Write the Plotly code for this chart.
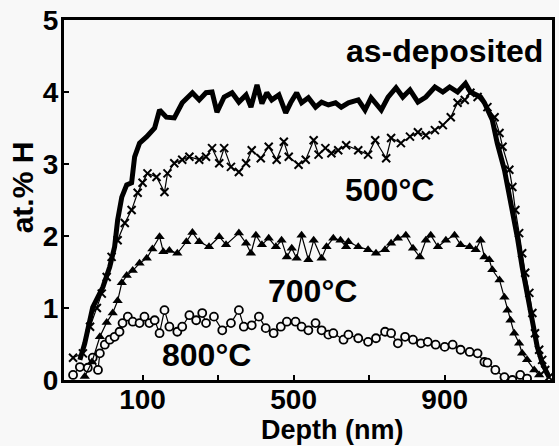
import plotly.graph_objects as go

# as-deposited (thick solid line)
asdep_x = [-66, -53, -32, -5, 13, 26, 34, 45, 58, 71, 79, 92, 111, 132, 145, 163, 184, 205, 232, 250,
           268, 284, 297, 316, 337, 355, 374, 387, 403, 416, 429, 442, 461, 479, 492, 508, 521, 539, 558,
           574, 592, 611, 626, 645, 671, 689, 705, 732, 750, 771, 789, 808, 829, 850, 874, 895, 913, 934,
           955, 968, 995, 1005, 1026, 1039, 1058, 1074, 1092, 1105, 1118, 1132, 1145, 1158, 1176]
asdep_y = [0.28, 0.51, 1.01, 1.29, 1.57, 1.85, 2.22, 2.54, 2.71, 2.74, 3.10, 3.29, 3.38, 3.50, 3.75, 3.65,
           3.64, 3.85, 3.99, 3.89, 3.99, 4.00, 3.72, 3.93, 3.99, 3.86, 3.96, 3.79, 4.10, 3.84, 3.99, 3.89,
           3.96, 3.71, 3.85, 3.99, 3.85, 3.92, 3.79, 3.86, 3.82, 3.85, 3.79, 3.85, 3.89, 3.75, 3.92, 3.75,
           3.93, 4.06, 3.93, 4.03, 3.86, 3.93, 4.07, 4.00, 4.07, 4.00, 4.12, 4.00, 3.93, 3.85, 3.61, 3.29,
           2.92, 2.50, 1.99, 1.57, 1.21, 0.79, 0.46, 0.24, 0.04]

# 500 C (crosses)
t500_x = [-84, -58, -39, -21, -8, 5, 18, 34, 53, 71, 87, 100, 113, 137, 158, 166, 184, 205, 224, 250,
          268, 284, 303, 316, 334, 355, 374, 389, 413, 434, 455, 474, 487, 513, 532, 553, 566, 584, 600,
          618, 639, 671, 697, 716, 745, 758, 784, 808, 829, 850, 874, 895, 916, 934, 953, 968, 987, 1013,
          1032, 1045, 1053, 1071, 1079, 1087, 1097, 1105, 1113, 1124, 1132, 1139, 1150, 1158, 1166, 1176]
t500_y = [0.31, 0.37, 0.74, 1.00, 1.20, 1.43, 1.71, 1.94, 2.18, 2.36, 2.60, 2.74, 2.87, 2.82, 2.61, 2.87,
          3.01, 3.06, 3.10, 3.06, 3.10, 3.22, 3.01, 3.22, 2.96, 2.89, 3.01, 3.19, 3.08, 3.24, 3.06, 3.31,
          3.10, 2.99, 3.06, 3.33, 3.13, 3.22, 3.15, 3.19, 3.26, 3.19, 3.13, 3.33, 3.08, 3.36, 3.29, 3.38,
          3.44, 3.40, 3.47, 3.54, 3.65, 3.85, 3.89, 3.99, 3.93, 3.79, 3.65, 3.43, 3.24, 2.92, 2.68, 2.36,
          2.04, 1.76, 1.49, 1.21, 0.93, 0.65, 0.42, 0.28, 0.14, 0.04]

# 700 C (filled triangles)
t700_x = [-53, -34, -13, 5, 21, 34, 45, 58, 74, 92, 111, 126, 145, 155, 171, 192, 216, 232, 250, 276,
          303, 321, 355, 374, 387, 400, 416, 434, 453, 468, 482, 495, 508, 521, 539, 553, 574, 587, 605,
          624, 639, 645, 671, 697, 718, 742, 758, 776, 797, 816, 834, 850, 863, 882, 903, 926, 942, 966,
          982, 995, 1005, 1018, 1026, 1045, 1058, 1066, 1074, 1084, 1097, 1105, 1118, 1137, 1150]
t700_y = [0.05, 0.25, 0.60, 0.80, 0.93, 1.10, 1.35, 1.45, 1.52, 1.62, 1.69, 1.82, 1.99, 1.78, 1.80, 1.76,
          1.92, 2.05, 1.92, 1.85, 1.99, 1.88, 2.04, 1.90, 1.76, 2.01, 1.88, 1.97, 1.85, 1.94, 1.71, 1.83,
          1.69, 2.01, 1.67, 1.94, 1.69, 1.85, 1.97, 1.94, 1.85, 1.92, 1.85, 1.81, 1.76, 1.81, 1.90, 1.97,
          2.01, 1.83, 1.71, 1.94, 2.01, 1.85, 1.94, 2.01, 1.88, 1.85, 1.81, 1.94, 1.71, 1.67, 1.53, 1.39,
          1.15, 0.97, 0.83, 0.65, 0.51, 0.37, 0.28, 0.14, 0.07]

# 800 C (open circles)
t800_x = [-84, -66, -45, -32, -18, -13, 0, 13, 26, 39, 47, 61, 74, 92, 105, 118, 132, 145, 158, 171,
          192, 205, 224, 242, 258, 268, 289, 311, 334, 355, 368, 389, 408, 426, 447, 466, 482, 505, 521,
          539, 558, 574, 592, 605, 632, 645, 671, 697, 718, 742, 758, 776, 795, 816, 837, 855, 876, 900,
          921, 942, 966, 987, 1005, 1013, 1034, 1058, 1079, 1100, 1118]
t800_y = [0.07, 0.18, 0.17, 0.31, 0.14, 0.37, 0.49, 0.56, 0.60, 0.67, 0.79, 0.88, 0.81, 0.79, 0.88, 0.79,
          0.83, 0.65, 0.97, 0.74, 0.67, 0.74, 0.90, 0.83, 0.93, 0.79, 0.88, 0.69, 0.79, 0.97, 0.74, 0.76,
          0.88, 0.72, 0.65, 0.74, 0.81, 0.81, 0.74, 0.69, 0.79, 0.69, 0.63, 0.65, 0.56, 0.63, 0.58, 0.53,
          0.58, 0.67, 0.65, 0.51, 0.60, 0.56, 0.51, 0.53, 0.49, 0.46, 0.49, 0.42, 0.39, 0.37, 0.25, 0.24,
          0.14, 0.04, 0.00, 0.07, 0.02]

x_tick_vals = [100, 500, 900]
x_tick_text = ["100", "500", "900"]
x_minor_ticks = [300, 700]
y_tick_vals = [0, 1, 2, 3, 4, 5]

labels = ["as-deposited", "500°C", "700°C", "800°C"]
label_x = [1166, 755, 550, 268]
label_y = [4.57, 2.64, 1.24, 0.35]

FONT = "Liberation Sans, Arial, sans-serif"
BG = "#f8f8f8"

fig = go.Figure()

fig.add_trace(go.Scatter(x=t800_x, y=t800_y, mode="lines+markers",
                         line=dict(color="black", width=1.2),
                         marker=dict(symbol="circle", size=8, color=BG,
                                     line=dict(color="black", width=1.8)),
                         showlegend=False))
fig.add_trace(go.Scatter(x=t700_x, y=t700_y, mode="lines+markers",
                         line=dict(color="black", width=1.2),
                         marker=dict(symbol="triangle-up", size=9, color="black"),
                         showlegend=False))
fig.add_trace(go.Scatter(x=asdep_x, y=asdep_y, mode="lines",
                         line=dict(color="black", width=5),
                         showlegend=False))
fig.add_trace(go.Scatter(x=t500_x, y=t500_y, mode="lines+markers",
                         line=dict(color="black", width=1.2),
                         marker=dict(symbol="x-thin", size=8,
                                     line=dict(color="black", width=2)),
                         showlegend=False))

for t, xx, yy, anc in zip(labels, label_x, label_y, ["right", "center", "center", "center"]):
    fig.add_annotation(x=xx, y=yy, text="<b>" + t + "</b>", showarrow=False,
                       xanchor=anc, yanchor="middle",
                       font=dict(family=FONT, size=32, color="black"))

# axis titles
fig.add_annotation(xref="paper", yref="paper", x=0.55, y=-0.138, text="<b>Depth (nm)</b>",
                   showarrow=False, xanchor="center", yanchor="middle",
                   font=dict(family=FONT, size=27, color="black"))
fig.add_annotation(xref="paper", yref="paper", x=-0.0855, y=0.536, text="<b>at.% H</b>",
                   showarrow=False, xanchor="center", yanchor="middle", textangle=-90,
                   font=dict(family=FONT, size=30, color="black"))

fig.update_layout(
    width=559, height=446,
    margin=dict(l=64, r=4, t=20, b=66),
    paper_bgcolor=BG, plot_bgcolor=BG,
    font=dict(family=FONT, color="black"),
)
fig.update_xaxes(
    range=[-108, 1184], showgrid=False, zeroline=False,
    showline=True, linecolor="black", linewidth=3, mirror=True,
    tickmode="array", tickvals=x_tick_vals,
    ticktext=["<b>" + s + "</b>" for s in x_tick_text],
    ticks="inside", ticklen=5, tickwidth=2, tickcolor="black",
    ticklabelstandoff=-8,
    tickfont=dict(family=FONT, size=28, color="black"),
    minor=dict(tickvals=x_minor_ticks, ticks="inside", ticklen=5, tickwidth=2, tickcolor="black"),
)
fig.update_yaxes(
    range=[0, 5], showgrid=False, zeroline=False,
    showline=True, linecolor="black", linewidth=3, mirror=True,
    tickmode="array", tickvals=y_tick_vals,
    ticktext=["<b>%d</b>" % v for v in y_tick_vals],
    ticks="inside", ticklen=5, tickwidth=2, tickcolor="black",
    ticklabelstandoff=-3,
    tickfont=dict(family=FONT, size=28, color="black"),
)

fig.write_html("out.html")
